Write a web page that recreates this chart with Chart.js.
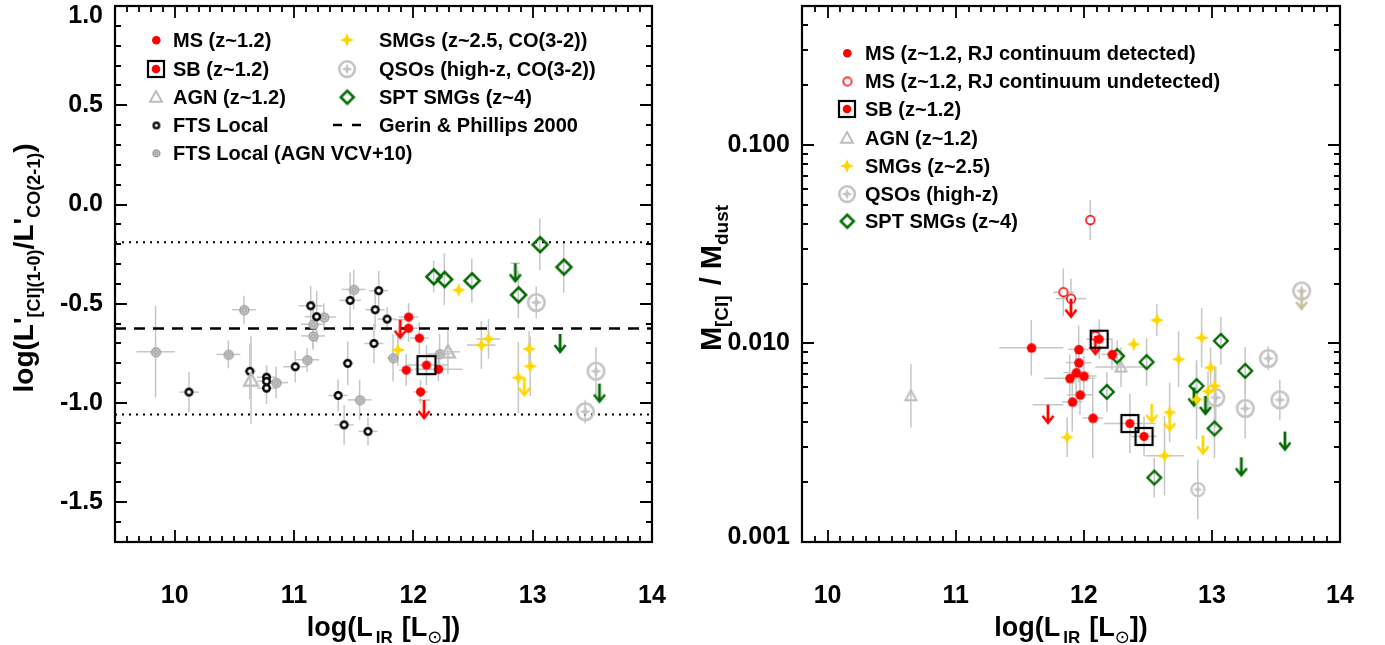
<!DOCTYPE html>
<html><head><meta charset="utf-8">
<script src="https://cdn.jsdelivr.net/npm/chart.js@4.4.1/dist/chart.umd.min.js"></script>
<style>
html,body{margin:0;padding:0;background:#fff;width:1385px;height:645px;overflow:hidden}
canvas{position:absolute;top:0}
#c1{left:0}#c2{left:690px}
</style></head><body>
<canvas id="c1" width="690" height="645" style="width:690px;height:645px"></canvas>
<canvas id="c2" width="695" height="645" style="width:695px;height:645px"></canvas>
<script>
// ---------------- DATA (x = log LIR, y, xerr, yerr) ----------------
// Left panel: log(L'CI / L'CO(2-1))
const L_MS = [[11.96,-0.567,0.08,0.07],[11.96,-0.623,0.08,0.07],[12.05,-0.673,0.08,0.08],[11.94,-0.834,0.06,0.08],[12.21,-0.830,0.2,0.06],[12.06,-0.944,0.06,0.06]];
const L_MS_LIM = [[11.89,-0.58,0.05,0],[12.09,-0.985,0.05,0]];
const L_SB = [[12.11,-0.809,0.18,0.1]];
const L_AGN = [[10.64,-0.884,0,0.22],[12.29,-0.742,0.1,0.11]];
const L_FTS = [[10.12,-0.945,0.08,0.1],[10.63,-0.84,0.05,0.14],[10.77,-0.87,0.08,0.06],[10.77,-0.89,0.08,0.06],[10.77,-0.925,0.08,0.08],[11.01,-0.817,0.1,0.08],[11.14,-0.51,0.1,0.1],[11.19,-0.565,0.1,0.13],[11.47,-0.483,0.09,0.14],[11.45,-0.80,0.05,0.11],[11.37,-0.962,0.08,0.08],[11.42,-1.11,0.08,0.1],[11.62,-1.143,0.08,0.07],[11.71,-0.434,0.08,0.1],[11.68,-0.53,0.08,0.1],[11.67,-0.70,0.08,0.1],[11.78,-0.577,0.08,0.06]];
const L_FTS_AGN = [[9.84,-0.742,0.16,0.23],[10.58,-0.53,0.1,0.07],[10.45,-0.755,0.1,0.07],[10.85,-0.897,0.1,0.08],[11.11,-0.782,0.1,0.06],[11.16,-0.603,0.1,0.12],[11.16,-0.662,0.1,0.07],[11.25,-0.567,0.1,0.07],[11.50,-0.428,0.1,0.1],[11.55,-0.984,0.1,0.1],[11.83,-0.772,0.05,0.12],[12.22,-0.752,0.1,0.1]];
const L_SMG = [[12.38,-0.431,0,0],[11.87,-0.732,0.05,0.08],[12.57,-0.708,0.12,0.12],[12.63,-0.677,0.1,0.1],[12.97,-0.727,0,0.09],[12.98,-0.815,0,0.15],[12.88,-0.872,0,0.18]];
const L_SMG_LIM = [[12.93,-0.87,0,0]];
const L_QSO = [[13.03,-0.493,0,0.08],[13.53,-0.839,0,0.12],[13.44,-1.043,0,0.06]];
const L_SPT = [[12.17,-0.363,0,0.08],[12.26,-0.376,0,0.13],[12.49,-0.383,0,0.11],[12.88,-0.454,0,0.12],[13.06,-0.201,0,0.13],[13.26,-0.314,0,0.13]];
const L_SPT_LIM = [[12.855,-0.296,0.04,0],[13.23,-0.652,0,0],[13.56,-0.902,0,0]];
const L_REF_DASHED = [-0.624];
const L_REF_DOTTED = [-0.19,-1.058];
const L_XTICKS = [10,11,12,13,14];
const L_YTICKS = [1.0,0.5,0.0,-0.5,-1.0,-1.5];
const L_YLABELS = ['1.0','0.5','0.0','-0.5','-1.0','-1.5'];

// Right panel: M_CI / M_dust (yerr in dex)
const R_MS = [[11.59,0.00951,0.25,0.14],[11.96,0.00933,0.08,0.12],[11.96,0.0080,0.1,0.1],[11.94,0.00713,0.1,0.12],[11.89,0.00668,0.2,0.12],[12.00,0.00685,0.1,0.1],[11.97,0.00551,0.1,0.1],[11.91,0.00508,0.08,0.15],[12.07,0.00421,0.08,0.2],[12.22,0.00881,0.08,0.08]];
const R_MS_LIM = [[11.72,0.00491,0.12,0]];
const R_MSU = [[12.05,0.0418,0,0.1],[11.84,0.0181,0.08,0.12],[11.90,0.0168,0.12,0.1],[12.09,0.0109,0,0]];
const R_MSU_LIM = [[11.90,0.0168,0,0],[12.09,0.0109,0,0]];
const R_SB = [[12.12,0.0105,0.1,0.1],[12.36,0.00395,0.2,0.15],[12.47,0.0034,0.1,0.1]];
const R_AGN = [[10.65,0.00545,0,0.16],[12.29,0.0076,0.2,0.1]];
const R_SMG = [[12.57,0.0131,0,0.08],[12.39,0.0099,0,0],[12.92,0.01067,0,0.15],[12.74,0.00832,0,0.14],[12.99,0.00755,0,0.1],[13.02,0.0061,0,0.1],[12.97,0.00573,0,0.1],[12.88,0.00522,0,0.2],[12.67,0.00449,0,0.15],[12.63,0.00272,0.15,0.2],[11.87,0.00337,0,0.1]];
const R_SMG_LIM = [[12.53,0.00496,0,0],[12.67,0.0045,0,0],[12.93,0.00344,0,0]];
const R_QSO = [[13.03,0.00534,0,0.15],[13.26,0.00471,0,0.15],[13.44,0.00841,0,0.06],[13.53,0.0052,0,0.1],[13.70,0.0184,0,0]];
const R_QSO_SMALL = [[12.89,0.00184,0,0.15]];
const R_QSO_LIM = [[13.70,0.0184,0,0]];
const R_SPT = [[12.26,0.00863,0,0.08],[12.18,0.0057,0,0.1],[12.49,0.00805,0,0.12],[13.07,0.0103,0,0.12],[13.26,0.00727,0,0.12],[12.88,0.0061,0,0.12],[13.02,0.00373,0,0.15],[12.55,0.00211,0,0.1]];
const R_SPT_LIM = [[12.86,0.006,0,0],[12.95,0.00544,0,0],[13.23,0.00267,0,0],[13.57,0.0036,0,0]];
const R_XTICKS = [10,11,12,13,14];
const R_YTICKS = [0.001,0.01,0.1];
const R_YLABELS = ['0.001','0.010','0.100'];

const L_LEGEND1 = ['MS (z~1.2)','SB (z~1.2)','AGN (z~1.2)','FTS Local','FTS Local (AGN VCV+10)'];
const L_LEGEND2 = ['SMGs (z~2.5, CO(3-2))','QSOs (high-z, CO(3-2))','SPT SMGs (z~4)','Gerin & Phillips 2000'];
const R_LEGEND = ['MS (z~1.2, RJ continuum detected)','MS (z~1.2, RJ continuum undetected)','SB (z~1.2)','AGN (z~1.2)','SMGs (z~2.5)','QSOs (high-z)','SPT SMGs (z~4)'];

// ---------------- STYLE ----------------
const FONT = '"Liberation Sans", Arial, Helvetica, sans-serif';
const f = s => 'bold ' + s + 'px ' + FONT;
const RED = '#ff0000', GOLD = '#ffd700', GREEN = '#006a00', GRAY = '#bdbdbd', ERR = '#c6c6c6';

function mk(w, h, draw) { const c = document.createElement('canvas'); c.width = w; c.height = h; draw(c.getContext('2d'), w / 2, h / 2); return c; }
function dot(col, r) { return mk(2*r+4, 2*r+4, (g,cx,cy)=>{g.fillStyle=col;g.beginPath();g.arc(cx,cy,r,0,7);g.fill();}); }
function ring(col, r, lw, fill) { return mk(2*r+lw+4, 2*r+lw+4, (g,cx,cy)=>{g.strokeStyle=col;g.lineWidth=lw;g.beginPath();g.arc(cx,cy,r,0,7);if(fill){g.fillStyle=fill;g.fill();}g.stroke();}); }
function ftsAgn(r) { return mk(2*r+6, 2*r+6, (g,cx,cy)=>{g.fillStyle='#c8c8c8';g.strokeStyle='#a0a0a0';g.lineWidth=1.5;g.beginPath();g.arc(cx,cy,r,0,7);g.fill();g.stroke();g.strokeStyle='#999';g.lineWidth=1;g.beginPath();g.arc(cx,cy,r*0.45,0,7);g.stroke();}); }
function sb(s, r) { return mk(s+6, s+6, (g,cx,cy)=>{g.strokeStyle='#000';g.lineWidth=2.2;g.strokeRect(cx-s/2,cy-s/2,s,s);g.fillStyle=RED;g.beginPath();g.arc(cx,cy,r,0,7);g.fill();}); }
function tri(s, lw) { return mk(s+6, s+6, (g,cx,cy)=>{g.strokeStyle=GRAY;g.lineWidth=lw;g.lineJoin='miter';g.beginPath();g.moveTo(cx,cy-s*0.5);g.lineTo(cx+s*0.5,cy+s*0.4);g.lineTo(cx-s*0.5,cy+s*0.4);g.closePath();g.stroke();}); }
function star4(g, cx, cy, R, r) { g.beginPath(); for (let i = 0; i < 8; i++) { const a = i * Math.PI / 4 - Math.PI / 2; const rr = i % 2 ? r : R; g.lineTo(cx + rr * Math.cos(a), cy + rr * Math.sin(a)); } g.closePath(); g.fill(); }
function smg(R) { return mk(2*R+4, 2*R+4, (g,cx,cy)=>{g.fillStyle=GOLD;star4(g,cx,cy,R,R*0.4);}); }
function qso(R, lw) { return mk(2*R+lw+4, 2*R+lw+4, (g,cx,cy)=>{g.strokeStyle='#c4c4c4';g.lineWidth=lw;g.beginPath();g.arc(cx,cy,R,0,7);g.stroke();g.fillStyle='#c4c4c4';star4(g,cx,cy,R*0.72,R*0.28);}); }
function dia(h, lw) { return mk(2*h+lw+4, 2*h+lw+4, (g,cx,cy)=>{g.strokeStyle=GREEN;g.lineWidth=lw;g.beginPath();g.moveTo(cx,cy-h);g.lineTo(cx+h,cy);g.lineTo(cx,cy+h);g.lineTo(cx-h,cy);g.closePath();g.stroke();}); }
function arrow(col, len) { return mk(16, 2*len+8, (g,cx,cy)=>{g.strokeStyle=col;g.lineWidth=2.8;g.lineCap='butt';g.beginPath();g.moveTo(cx,cy);g.lineTo(cx,cy+len-1);g.stroke();g.lineJoin='miter';g.lineWidth=2.6;g.beginPath();g.moveTo(cx-5.5,cy+len-7);g.lineTo(cx,cy+len);g.lineTo(cx+5.5,cy+len-7);g.stroke();}); }

const S = {
  msL: dot(RED, 4.6), msR: dot(RED, 4.8), msOpen: ring(RED, 4.3, 1.6, '#fff'),
  sbL: sb(18, 4.6), sbR: sb(17, 4.6),
  agnL: tri(14, 2.2), agnR: tri(11, 2),
  fts: ring('#000', 3.3, 2.4, '#fff'), ftsAgn: ftsAgn(4.4),
  smg: smg(7), qso: qso(8.3, 2.6), qsoSmall: qso(6.5, 2.2),
  spt: dia(7.5, 2.5), sptR: dia(6.8, 2.4),
  arRed: arrow(RED, 18), arGold: arrow(GOLD, 18), arGreen: arrow(GREEN, 18), arGray: arrow('#c8c0a0', 18),
  legMs: dot(RED, 4.3), legOpen: ring(RED, 4.2, 1.5, '#fff'), legSb: sb(16, 4.3), legAgn: tri(12, 2),
  legFts: ring('#000', 2.8, 2.2, '#fff'), legFtsAgn: ftsAgn(3.4), legSmg: smg(7), legQso: qso(7.8, 2.6), legSpt: dia(6.5, 2.5)
};

function pts(arr) { return arr.map(d => ({ x: d[0], y: d[1], xe: d[2] || 0, ye: d[3] || 0 })); }
function ds(arr, sym, order) { return { type: 'scatter', data: pts(arr), pointStyle: sym, pointRadius: 5, showLine: false, order: order, err: true }; }
function hline(v, dash, lw, xmin, xmax) { return { type: 'line', data: [{ x: xmin, y: v }, { x: xmax, y: v }], borderColor: '#000', borderWidth: lw, borderDash: dash, pointRadius: 0, fill: false, order: 50 }; }

// error bars (drawn under markers)
const errPlugin = {
  id: 'err',
  beforeDatasetsDraw(chart) {
    const { ctx, scales: { x, y } } = chart; const log = y.type === 'logarithmic';
    ctx.save(); ctx.strokeStyle = ERR; ctx.lineWidth = 1.5;
    const a = chart.chartArea; ctx.beginPath(); ctx.rect(a.left, a.top, a.right - a.left, a.bottom - a.top); ctx.clip();
    chart.data.datasets.forEach(d => {
      if (!d.err) return;
      d.data.forEach(p => {
        const px = x.getPixelForValue(p.x), py = y.getPixelForValue(p.y);
        if (p.xe) { ctx.beginPath(); ctx.moveTo(x.getPixelForValue(p.x - p.xe), py); ctx.lineTo(x.getPixelForValue(p.x + p.xe), py); ctx.stroke(); }
        if (p.ye) {
          const lo = log ? p.y / Math.pow(10, p.ye) : p.y - p.ye, hi = log ? p.y * Math.pow(10, p.ye) : p.y + p.ye;
          ctx.beginPath(); ctx.moveTo(px, y.getPixelForValue(lo)); ctx.lineTo(px, y.getPixelForValue(hi)); ctx.stroke();
        }
      });
    });
    ctx.restore();
  }
};

function rich(ctx, parts, x, y, rot) {
  ctx.save(); ctx.translate(x, y); if (rot) ctx.rotate(-Math.PI / 2);
  ctx.textAlign = 'left'; ctx.textBaseline = 'alphabetic'; ctx.fillStyle = '#000';
  let w = 0; parts.forEach(p => { ctx.font = p[3] || f(p[1]); w += ctx.measureText(p[0]).width + (p[4] || 0); });
  let cx = -w / 2;
  parts.forEach(p => { ctx.font = p[3] || f(p[1]); ctx.fillText(p[0], cx, p[2]); cx += ctx.measureText(p[0]).width + (p[4] || 0); });
  ctx.restore();
}

function axesPlugin(cfg) {
  return {
    id: 'axes',
    afterDraw(chart) {
      const { ctx, chartArea: a, scales: { x, y } } = chart;
      ctx.save();
      ctx.strokeStyle = '#000'; ctx.lineWidth = 1.8;
      for (let i = Math.ceil(x.min * 10 - 1e-6); i <= Math.floor(x.max * 10 + 1e-6); i++) {
        const px = Math.round(x.getPixelForValue(i / 10)); const L = i % 10 === 0 ? 12 : 6;
        ctx.beginPath(); ctx.moveTo(px, a.bottom); ctx.lineTo(px, a.bottom - L); ctx.moveTo(px, a.top); ctx.lineTo(px, a.top + L); ctx.stroke();
      }
      const yt = [];
      if (y.type === 'logarithmic') {
        for (let d = -4; d <= 1; d++) for (let k = 1; k <= 9; k++) { const v = k * Math.pow(10, d); if (v >= y.min * 0.999 && v <= y.max * 1.001) yt.push([v, k === 1]); }
      } else {
        for (let i = Math.ceil(y.min * 10 - 1e-6); i <= Math.floor(y.max * 10 + 1e-6); i++) yt.push([i / 10, i % 5 === 0]);
      }
      yt.forEach(t => {
        const py = Math.round(y.getPixelForValue(t[0])); const L = t[1] ? 12 : 6;
        ctx.beginPath(); ctx.moveTo(a.left, py); ctx.lineTo(a.left + L, py); ctx.moveTo(a.right, py); ctx.lineTo(a.right - L, py); ctx.stroke();
      });
      ctx.lineWidth = 2.2; ctx.strokeRect(a.left, a.top, a.right - a.left, a.bottom - a.top);
      ctx.fillStyle = '#000'; ctx.font = f(25);
      ctx.textAlign = 'center'; ctx.textBaseline = 'middle';
      cfg.xticks.forEach(v => ctx.fillText(String(v), x.getPixelForValue(v), 596));
      ctx.textAlign = 'right';
      cfg.yticks.forEach((v, i) => { let py = y.getPixelForValue(v); py = Math.min(Math.max(py, 16), 537); ctx.fillText(cfg.ylabels[i], a.left - 12, py); });
      const cxp = (a.left + a.right) / 2;
      rich(ctx, [['log(L', 27, 0, null, 3], ['IR', 17, 7, null, 9], ['[L', 27, 0], ['\u2299', 18, 7, '18px "DejaVu Sans"'], ['])', 27, 0]], cxp, 636, false);
      cfg.ytitle(ctx);
      ctx.textAlign = 'left'; ctx.textBaseline = 'middle'; ctx.font = f(20);
      cfg.legend.forEach(e => {
        if (e.sym) ctx.drawImage(e.sym, e.sx - e.sym.width / 2, e.y - e.sym.height / 2);
        if (e.dash) { ctx.strokeStyle = '#000'; ctx.lineWidth = 2.5; ctx.beginPath(); ctx.moveTo(e.sx - 14, e.y); ctx.lineTo(e.sx - 5, e.y); ctx.moveTo(e.sx + 5, e.y); ctx.lineTo(e.sx + 14, e.y); ctx.stroke(); }
        ctx.fillStyle = '#000'; ctx.fillText(e.t, e.tx, e.y + 1);
      });
      ctx.restore();
    }
  };
}

Chart.defaults.font.family = FONT;
const base = (xmin, xmax, ytype, ymin, ymax, pad) => ({
  responsive: false, animation: false, events: [], devicePixelRatio: 1,
  layout: { padding: pad },
  plugins: { legend: { display: false }, tooltip: { enabled: false } },
  scales: {
    x: { type: 'linear', min: xmin, max: xmax, display: false },
    y: { type: ytype, min: ymin, max: ymax, display: false }
  }
});

// ---------------- LEFT CHART ----------------
const leftLegend = [];
L_LEGEND1.forEach((t, i) => leftLegend.push({ t, y: [40, 69, 97, 125, 153][i], sx: 156, tx: 173, sym: [S.legMs, S.legSb, S.legAgn, S.legFts, S.legFtsAgn][i] }));
L_LEGEND2.forEach((t, i) => leftLegend.push({ t, y: [40, 69, 97, 125][i], sx: 347, tx: 379, sym: [S.legSmg, S.legQso, S.legSpt, null][i], dash: i === 3 }));

new Chart(document.getElementById('c1'), {
  type: 'scatter',
  data: {
    datasets: [
      hline(L_REF_DASHED[0], [11, 8], 2.5, 9.5, 14),
      hline(L_REF_DOTTED[0], [2, 5], 2, 9.5, 14),
      hline(L_REF_DOTTED[1], [2, 5], 2, 9.5, 14),
      ds(L_FTS_AGN, S.ftsAgn, 20), ds(L_FTS, S.fts, 19), ds(L_AGN, S.agnL, 18),
      ds(L_QSO, S.qso, 17), ds(L_SPT, S.spt, 16), ds(L_SPT_LIM, S.arGreen, 15),
      ds(L_SMG, S.smg, 14), ds(L_SMG_LIM, S.arGold, 13),
      ds(L_MS, S.msL, 12), ds(L_MS_LIM, S.arRed, 11), ds(L_SB, S.sbL, 10)
    ]
  },
  options: base(9.5, 14, 'linear', -1.7, 1.0, { left: 115, top: 3, right: 38, bottom: 103 }),
  plugins: [errPlugin, axesPlugin({
    xticks: L_XTICKS, yticks: L_YTICKS, ylabels: L_YLABELS, legend: leftLegend,
    ytitle: ctx => rich(ctx, [['log(L\'', 28, 0], ['[CI](1-0)', 18, 7], ['/L\'', 28, 0], ['CO(2-1)', 18, 7], [')', 28, 0]], 33, 268, true)
  })]
});

// ---------------- RIGHT CHART ----------------
const rightLegend = R_LEGEND.map((t, i) => ({ t, y: [53, 81, 109, 138, 166, 194, 221][i], sx: 157, tx: 175, sym: [S.legMs, S.legOpen, S.legSb, S.legAgn, S.legSmg, S.legQso, S.legSpt][i] }));

new Chart(document.getElementById('c2'), {
  type: 'scatter',
  data: {
    datasets: [
      ds(R_AGN, S.agnR, 20), ds(R_QSO, S.qso, 19), ds(R_QSO_SMALL, S.qsoSmall, 19), ds(R_QSO_LIM, S.arGray, 18),
      ds(R_SPT, S.sptR, 17), ds(R_SPT_LIM, S.arGreen, 16),
      ds(R_SMG, S.smg, 15), ds(R_SMG_LIM, S.arGold, 14),
      ds(R_MS, S.msR, 13), ds(R_MS_LIM, S.arRed, 12),
      ds(R_MSU, S.msOpen, 11), ds(R_MSU_LIM, S.arRed, 10), ds(R_SB, S.sbR, 9)
    ]
  },
  options: base(9.8, 14, 'logarithmic', 0.001, 0.5, { left: 112, top: 3, right: 45, bottom: 103 }),
  plugins: [errPlugin, axesPlugin({
    xticks: R_XTICKS, yticks: R_YTICKS, ylabels: R_YLABELS, legend: rightLegend,
    ytitle: ctx => rich(ctx, [['M', 29, 0], ['[CI]', 19, 7, null, 2], [' / M', 29, 0], ['dust', 19, 7]], 31, 278, true)
  })]
});
</script>
</body></html>
